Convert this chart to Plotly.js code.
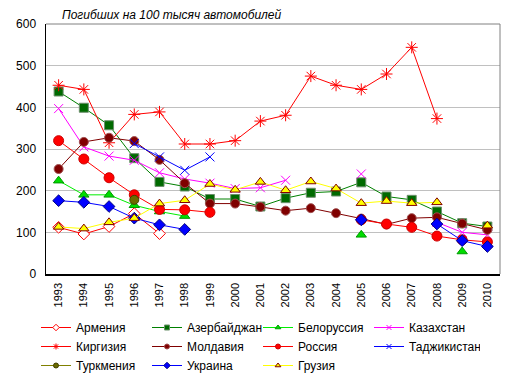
<!DOCTYPE html>
<html>
<head>
<meta charset="utf-8">
<script src="https://cdn.plot.ly/plotly-3.0.1.min.js"></script>
<style>html,body{margin:0;padding:0;background:#fff;}#chart{width:516px;height:379px;}</style>
</head>
<body>
<div id="chart"></div>
<script>
const years = ["1993","1994","1995","1996","1997","1998","1999","2000","2001","2002","2003","2004","2005","2006","2007","2008","2009","2010"];
const titleText = "Погибших на 100 тысяч автомобилей";
const armenia      = [112, 96, 114, 145, 97, null, null, null, null, null, null, null, null, null, null, null, null, null];
const azerbaijan   = [438, 399, 357, 278, 221, 210, 180, 180, 162, 182, 195, 198, 220, 186, 178, 150, 122, 114];
const belarus      = [224, 190, 190, 165, 150, 139, null, null, null, null, null, null, 94, null, null, null, 54, null];
const kazakhstan   = [397, 305, 283, 273, 243, 228, 218, 205, 207, 225, null, null, 240, null, null, 124, 100, 94];
const kyrgyzstan   = [453, 443, 315, 383, 389, 312, 312, 320, 367, 381, 475, 453, 443, 480, 544, 373, null, null];
const moldova      = [252, 317, 327, 319, 274, 218, 169, 169, 161, 152, 158, 146, 133, 119, 134, 136, 121, 106];
const russia       = [320, 276, 231, 190, 155, 154, 148, null, null, null, null, null, 130, 120, 112, 91, 82, 77];
const tajikistan   = [null, null, null, 313, 281, 249, 281, null, null, null, null, null, null, null, null, null, null, null];
const turkmenistan = [null, null, null, 178, null, null, null, null, null, null, null, null, null, null, null, null, null, null];
const ukraine      = [176, 172, 162, 134, 118, 107, null, null, null, null, null, null, 130, null, null, 120, 80, 66];
const georgia      = [113, 109, 124, 134, 169, 177, 216, 202, 221, 201, 222, 205, 170, 175, 170, 172, null, 116];

const names = ["Армения","Азербайджан","Белоруссия","Казахстан","Киргизия","Молдавия","Россия","Таджикистан","Туркмения","Украина","Грузия"];
const series = [armenia, azerbaijan, belarus, kazakhstan, kyrgyzstan, moldova, russia, tajikistan, turkmenistan, ukraine, georgia];
const styles = [
  {line:"#ff0000", symbol:"diamond", size:9, fill:"#ffffff", outline:"#ff0000"},
  {line:"#008000", symbol:"square", size:9, fill:"#006a00", outline:"#6b8f6b"},
  {line:"#00ee00", symbol:"triangle-up", size:9, fill:"#00dd00", outline:"#009900"},
  {line:"#ff00ff", symbol:"x-thin-open", size:9, fill:"#ff00ff", outline:"#ff00ff"},
  {line:"#ff0000", symbol:"asterisk-open", size:10, fill:"#ff0000", outline:"#ff0000"},
  {line:"#800000", symbol:"circle", size:9, fill:"#800000", outline:"#a05050"},
  {line:"#ff0000", symbol:"circle", size:10, fill:"#ff0000", outline:"#cc0000"},
  {line:"#0000ff", symbol:"x-thin-open", size:9, fill:"#0000ff", outline:"#0000ff"},
  {line:"#808000", symbol:"circle", size:9, fill:"#6b6b00", outline:"#404000"},
  {line:"#0000ff", symbol:"diamond", size:9, fill:"#0000ff", outline:"#000080"},
  {line:"#ffff00", symbol:"triangle-up", size:9, fill:"#ffff00", outline:"#800000"}
];

const traces = series.map((ys, i) => ({
  type: "scatter",
  mode: "lines+markers",
  name: names[i],
  x: years,
  y: ys,
  showlegend: false,
  line: {color: styles[i].line, width: 1},
  marker: {symbol: styles[i].symbol, size: styles[i].size, color: styles[i].fill,
           line: {color: styles[i].outline, width: 1}},
  connectgaps: false
}));
// legend-only entries with small symbols, like the reference
const legendTraces = names.map((n, i) => ({
  type: "scatter",
  mode: "lines+markers",
  name: n,
  x: [years[0]],
  y: [null],
  hoverinfo: "skip",
  line: {color: styles[i].line, width: 1},
  marker: {symbol: styles[i].symbol, size: 5, color: styles[i].fill,
           line: {color: styles[i].outline, width: 1}}
}));

const layout = {
  width: 516, height: 379,
  margin: {l: 46, r: 16, t: 24, b: 105},
  paper_bgcolor: "#ffffff", plot_bgcolor: "#ffffff",
  font: {family: "Liberation Sans, Arial, sans-serif", size: 12, color: "#000"},
  title: {text: "<i>" + titleText + "</i>", x: 62/516, xanchor: "left", xref: "container",
          y: 1 - 15/379, yanchor: "middle", yref: "container",
          font: {family: "Liberation Sans, Arial, sans-serif", size: 12, color: "#000"}},
  showlegend: true,
  legend: {orientation: "h", xref: "container", yref: "container",
           x: 36/516, xanchor: "left", y: 1 - 313/379, yanchor: "top",
           entrywidth: 66, entrywidthmode: "pixels", tracegroupgap: 0,
           font: {size: 12}, traceorder: "normal", itemwidth: 30},
  xaxis: {type: "category", range: [-0.5, 17.5], tickangle: -90, ticks: "", showgrid: false,
          showline: true, linecolor: "#000", linewidth: 1.5, tickfont: {size: 11}, zeroline: false,
          fixedrange: true, automargin: false, ticklabelstandoff: 3},
  yaxis: {range: [0, 600], dtick: 100, showgrid: true, gridcolor: "#c0c0c0", gridwidth: 1,
          showline: true, linecolor: "#000", linewidth: 1.5, ticks: "", zeroline: false,
          tickfont: {size: 12}, ticklen: 0, fixedrange: true, automargin: false, ticklabelstandoff: 6},
  shapes: [
    {type: "line", xref: "paper", yref: "paper", x0: 0, x1: 1, y0: 1, y1: 1, line: {color: "#808080", width: 1}},
    {type: "line", xref: "paper", yref: "paper", x0: 1, x1: 1, y0: 0, y1: 1, line: {color: "#808080", width: 1}}
  ]
};

Plotly.newPlot("chart", traces.concat(legendTraces), layout, {displayModeBar: false, staticPlot: true});
</script>
</body>
</html>
